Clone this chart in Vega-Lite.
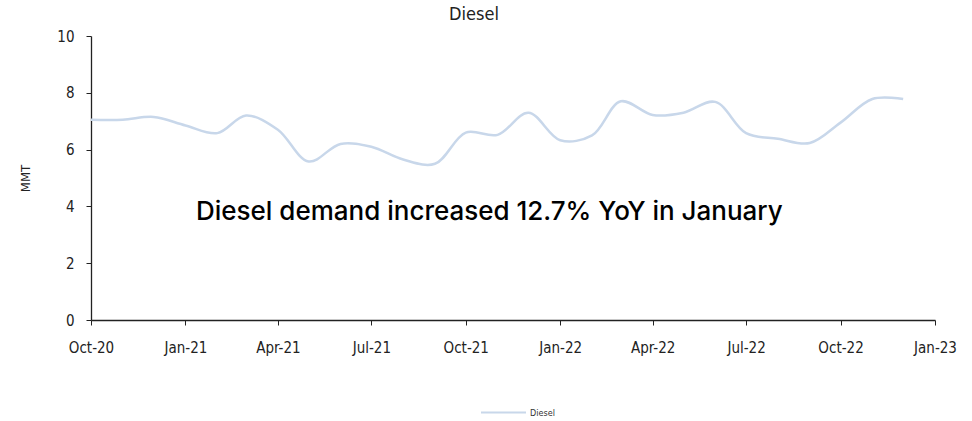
{
  "$schema": "https://vega.github.io/schema/vega-lite/v6.json",
  "width": 844,
  "height": 284,
  "autosize": {"type": "none"},
  "padding": {"left": 91, "top": 36, "right": 37, "bottom": 101},
  "background": "white",
  "title": {"text": "Diesel", "font": "DejaVu Sans Condensed", "fontSize": 18, "fontWeight": "normal", "color": "#222222", "anchor": "middle", "dx": -39, "offset": 5},
  "config": {"view": {"stroke": null}},
  "datasets": {
    "series": [
      {"month": "2020-10-01", "value": 7.05, "series": "Diesel"},
      {"month": "2020-11-01", "value": 7.05, "series": "Diesel"},
      {"month": "2020-12-01", "value": 7.15, "series": "Diesel"},
      {"month": "2021-01-01", "value": 6.85, "series": "Diesel"},
      {"month": "2021-02-01", "value": 6.58, "series": "Diesel"},
      {"month": "2021-03-01", "value": 7.2, "series": "Diesel"},
      {"month": "2021-04-01", "value": 6.7, "series": "Diesel"},
      {"month": "2021-05-01", "value": 5.58, "series": "Diesel"},
      {"month": "2021-06-01", "value": 6.2, "series": "Diesel"},
      {"month": "2021-07-01", "value": 6.1, "series": "Diesel"},
      {"month": "2021-08-01", "value": 5.65, "series": "Diesel"},
      {"month": "2021-09-01", "value": 5.5, "series": "Diesel"},
      {"month": "2021-10-01", "value": 6.6, "series": "Diesel"},
      {"month": "2021-11-01", "value": 6.52, "series": "Diesel"},
      {"month": "2021-12-01", "value": 7.3, "series": "Diesel"},
      {"month": "2022-01-01", "value": 6.33, "series": "Diesel"},
      {"month": "2022-02-01", "value": 6.5, "series": "Diesel"},
      {"month": "2022-03-01", "value": 7.7, "series": "Diesel"},
      {"month": "2022-04-01", "value": 7.22, "series": "Diesel"},
      {"month": "2022-05-01", "value": 7.3, "series": "Diesel"},
      {"month": "2022-06-01", "value": 7.68, "series": "Diesel"},
      {"month": "2022-07-01", "value": 6.58, "series": "Diesel"},
      {"month": "2022-08-01", "value": 6.38, "series": "Diesel"},
      {"month": "2022-09-01", "value": 6.23, "series": "Diesel"},
      {"month": "2022-10-01", "value": 6.95, "series": "Diesel"},
      {"month": "2022-11-01", "value": 7.78, "series": "Diesel"},
      {"month": "2022-12-01", "value": 7.78, "series": "Diesel"}
    ],
    "note": [
      {"month": "2021-10-24", "value": 3.8, "label": "Diesel demand increased 12.7% YoY in January"}
    ]
  },
  "layer": [
    {
      "data": {"name": "series"},
      "mark": {"type": "line", "interpolate": "catmull-rom", "strokeWidth": 2.5},
      "encoding": {
        "x": {
          "field": "month", "type": "temporal", "timeUnit": "utcyearmonthdate",
          "scale": {"domain": [{"year": 2020, "month": 10, "date": 1, "utc": true}, {"year": 2023, "month": 1, "date": 1, "utc": true}]},
          "axis": {
            "title": null,
            "format": "%b-%y",
            "values": [
              {"year": 2020, "month": 10, "date": 1, "utc": true},
              {"year": 2021, "month": 1, "date": 1, "utc": true},
              {"year": 2021, "month": 4, "date": 1, "utc": true},
              {"year": 2021, "month": 7, "date": 1, "utc": true},
              {"year": 2021, "month": 10, "date": 1, "utc": true},
              {"year": 2022, "month": 1, "date": 1, "utc": true},
              {"year": 2022, "month": 4, "date": 1, "utc": true},
              {"year": 2022, "month": 7, "date": 1, "utc": true},
              {"year": 2022, "month": 10, "date": 1, "utc": true},
              {"year": 2023, "month": 1, "date": 1, "utc": true}
            ],
            "grid": false,
            "domainColor": "#222222",
            "domainWidth": 1.3,
            "tickColor": "#222222",
            "tickSize": 5,
            "labelFont": "DejaVu Sans Condensed",
            "labelFontSize": 15,
            "labelColor": "#222222",
            "labelPadding": 15,
            "labelFlush": false,
            "labelOverlap": false
          }
        },
        "y": {
          "field": "value", "type": "quantitative",
          "scale": {"domain": [0, 10], "nice": false},
          "axis": {
            "title": "MMT",
            "titleFont": "DejaVu Sans Condensed",
            "titleFontSize": 13,
            "titleFontWeight": "normal",
            "titleColor": "#222222",
            "titlePadding": 24,
            "values": [0, 2, 4, 6, 8, 10],
            "grid": false,
            "domainColor": "#222222",
            "domainWidth": 1.3,
            "tickColor": "#222222",
            "tickSize": 5,
            "labelFont": "DejaVu Sans Condensed",
            "labelFontSize": 15,
            "labelColor": "#222222",
            "labelPadding": 12
          }
        },
        "color": {
          "field": "series", "type": "nominal",
          "scale": {"range": ["#c8d7ea"]},
          "legend": {
            "title": null,
            "orient": "none",
            "legendX": 389,
            "legendY": 353,
            "padding": 0,
            "symbolType": "stroke",
            "symbolSize": 2025,
            "symbolStrokeWidth": 2,
            "labelFont": "DejaVu Sans Condensed",
            "labelFontSize": 9,
            "labelColor": "#333333",
            "labelOffset": 3
          }
        }
      }
    },
    {
      "data": {"name": "note"},
      "mark": {"type": "text", "font": "Inter", "fontSize": 26, "fontWeight": 500, "color": "#000000", "align": "center", "baseline": "middle"},
      "encoding": {
        "x": {"field": "month", "type": "temporal", "timeUnit": "utcyearmonthdate"},
        "y": {"field": "value", "type": "quantitative"},
        "text": {"field": "label"}
      }
    }
  ]
}
